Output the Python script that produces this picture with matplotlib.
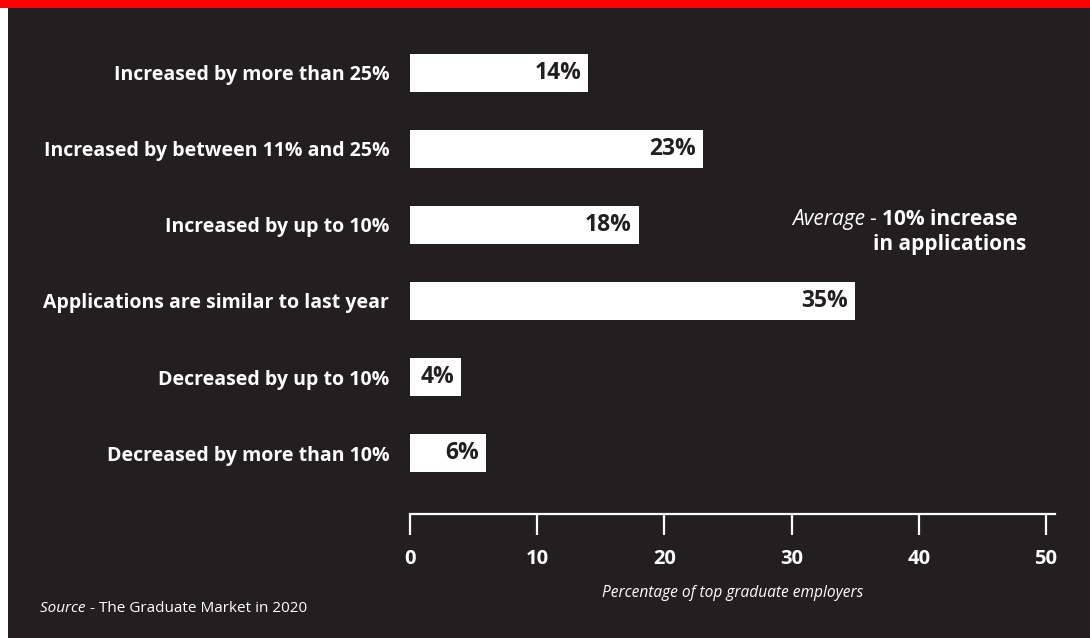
import matplotlib
matplotlib.use("Agg")
import matplotlib.pyplot as plt
from matplotlib.patches import Rectangle

plt.rcParams['font.family'] = ['Open Sans', 'DejaVu Sans']

# survey responses: change in graduate applications
categories = [
    "Increased by more than 25%",
    "Increased by between 11% and 25%",
    "Increased by up to 10%",
    "Applications are similar to last year",
    "Decreased by up to 10%",
    "Decreased by more than 10%",
]
values = [14, 23, 18, 35, 4, 6]
xticks = [0, 10, 20, 30, 40, 50]

bg = '#231f20'
W, H = 1090, 638

fig = plt.figure(figsize=(W / 100, H / 100), dpi=100, facecolor=bg)

# red strip along the top, thin white strip down the left side
fig.patches.append(Rectangle((0, 1 - 8 / H), 1, 8 / H, transform=fig.transFigure,
                             facecolor='#ff0000', edgecolor='none', zorder=0))
fig.patches.append(Rectangle((0, 0), 8 / W, 1 - 8 / H, transform=fig.transFigure,
                             facecolor='white', edgecolor='none', zorder=0))

x0, x50 = 410, 1046
xmax = 50.7
ax = fig.add_axes([x0 / W, (H - 514) / H, (x50 - x0) / 50 * xmax / W, (514 - 8) / H])
ax.set_facecolor(bg)

pos = list(range(len(categories)))
ax.barh(pos, values, height=0.5, color='white', edgecolor='none')
for p, v in zip(pos, values):
    ax.text(v - 0.55, p, f"{v}%", ha='right', va='center', fontsize=16.5,
            fontweight='bold', color=bg)

ax.set_xlim(0, xmax)
ax.set_ylim(5.8, -0.85)

ax.set_yticks(pos)
ax.set_yticklabels(categories)
ax.tick_params(axis='y', length=0, pad=15, labelsize=14, labelcolor='white')
for lbl in ax.get_yticklabels():
    lbl.set_fontweight('bold')

ax.set_xticks(xticks)
ax.tick_params(axis='x', direction='out', length=15, width=1.6, color='white',
               pad=10, labelsize=14.5, labelcolor='white')
for lbl in ax.get_xticklabels():
    lbl.set_fontweight('bold')

for s in ['top', 'right', 'left']:
    ax.spines[s].set_visible(False)
ax.spines['bottom'].set_color('white')
ax.spines['bottom'].set_linewidth(1.6)

ax.set_xlabel("Percentage of top graduate employers", fontsize=11.2, style='italic',
              color='white', labelpad=12)

# average callout: bold lines centred, italic lead-in chained on the left
t1 = fig.text(950 / W, 1 - 219 / H, "10% increase", ha='center', va='center',
              fontsize=15, fontweight='bold', color='white')
fig.text(950 / W, 1 - 245 / H, "in applications", ha='center', va='center',
         fontsize=15, fontweight='bold', color='white')
dash = ax.annotate("- ", xy=(0, 0.5), xycoords=t1, ha='right', va='center',
                   fontsize=15, color='white')
ax.annotate("Average ", xy=(0, 0.5), xycoords=dash, ha='right', va='center',
            fontsize=15, style='italic', color='white')

src = fig.text(40 / W, 1 - 609 / H, "Source ", ha='left', va='center', fontsize=11,
               style='italic', color='white')
ax.annotate("- The Graduate Market in 2020", xy=(1, 0.5), xycoords=src, ha='left',
            va='center', fontsize=11, color='white')

fig.savefig("out.png", dpi=100, facecolor=bg)
